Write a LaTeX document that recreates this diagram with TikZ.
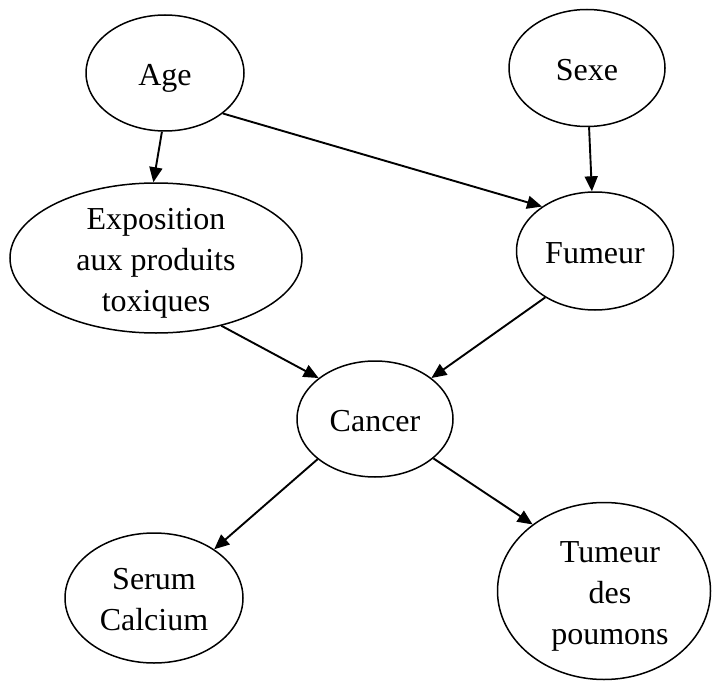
\documentclass[tikz,border=0pt]{standalone}
\usepackage{fontspec}
\setmainfont{Liberation Serif}
\usetikzlibrary{shapes.geometric,arrows.meta}
% sets a (possibly multi-line) label a little below the centre, keeping
% its vertical extent out of the ellipse's size
\newcommand\lowtext[1]{\raisebox{-7pt}%
  [\dimexpr(\height-\depth)/2\relax][\dimexpr(\depth-\height)/2\relax]{%
  \begin{tabular}{@{}c@{}}#1\end{tabular}}}
\begin{document}
\begin{tikzpicture}[x=1pt,y=-1pt,
  var/.style={ellipse,draw,line width=1.5pt,inner sep=0pt,align=center,
    font=\fontsize{32}{41}\selectfont},
  link/.style={line width=1.9pt,-{Triangle[length=15pt,width=13pt]}}]
\useasboundingbox (0,0) rectangle (712,682);
% variables
\node[var,minimum width=158pt,minimum height=116pt] (age) at (165,73) {\lowtext{Age}};
\node[var,minimum width=156pt,minimum height=117pt] (sexe) at (587,68) {\lowtext{Sexe}};
\node[var,minimum width=292pt,minimum height=150pt] (expo) at (156,258)
  {\lowtext{Exposition\\aux produits\\toxiques}};
\node[var,minimum width=157pt,minimum height=118pt] (fum) at (595,251) {\lowtext{Fumeur}};
\node[var,minimum width=156pt,minimum height=116pt] (can) at (375,419) {\lowtext{Cancer}};
\node[var,minimum width=178pt,minimum height=130pt] (ser) at (154,598)
  {\lowtext{Serum\\Calcium}};
\node[var,minimum width=213pt,minimum height=177pt] (tum) at (604,591)
  {\hspace*{12pt}\lowtext{Tumeur\\des\\poumons}};
% dependencies
\draw[link] (age.-93) -- (expo.92);
\draw[link] (age.-35) -- (fum.140);
\draw[link] (sexe.-88) -- (fum.93);
\draw[link] (expo.-46) -- (can.144);
\draw[link] (fum.223) -- (can.36);
\draw[link] (can.215) -- (ser.39);
\draw[link] (can.-34) -- (tum.137);
\end{tikzpicture}
\end{document}
